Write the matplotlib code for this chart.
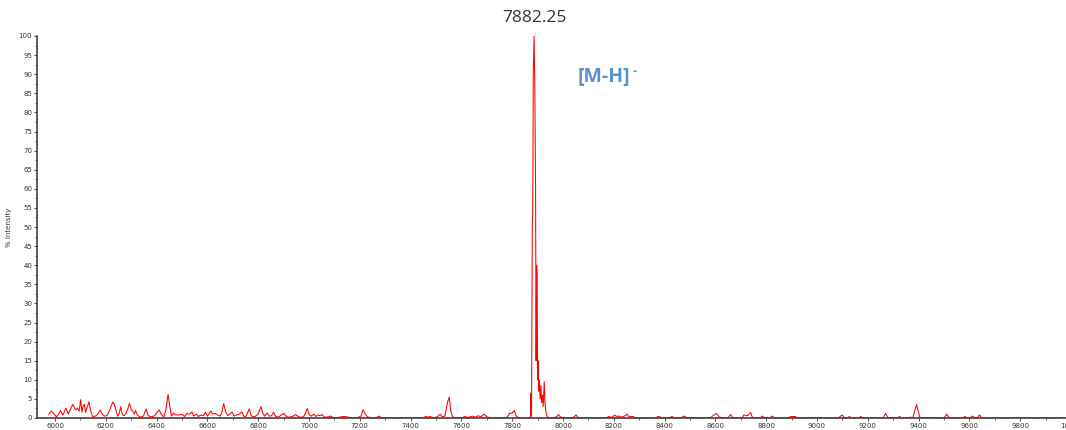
import matplotlib
matplotlib.use("Agg")
import matplotlib.pyplot as plt
from matplotlib.ticker import MultipleLocator

# spectrum trace (m/z, % intensity)
mz = [
    5975, 5985, 5995, 6005, 6012, 6022, 6030, 6036, 6043, 6052, 6060, 6070,
    6078, 6084, 6088, 6095, 6101, 6106, 6110, 6116, 6120, 6127, 6134, 6140,
    6148, 6160, 6168, 6178, 6186, 6194, 6204, 6212, 6220, 6228, 6234, 6240,
    6246, 6252, 6259, 6265, 6272, 6280, 6287, 6293, 6300, 6306, 6312, 6317,
    6324, 6335, 6348, 6359, 6366, 6380, 6392, 6402, 6410, 6418, 6428, 6436,
    6445, 6452, 6458, 6467, 6475, 6490, 6500, 6510, 6520, 6530, 6539, 6546,
    6556, 6565, 6575, 6584, 6592, 6600, 6607, 6614, 6620, 6630, 6640, 6650,
    6657, 6664, 6672, 6680, 6688, 6697, 6705, 6715, 6725, 6736, 6743, 6750,
    6757, 6765, 6772, 6782, 6790, 6800, 6811, 6818, 6826, 6835, 6843, 6852,
    6861, 6868, 6880, 6890, 6901, 6910, 6920, 6935, 6947, 6955, 6965, 6978,
    6986, 6993, 7000, 7008, 7019, 7028, 7036, 7044, 7052, 7060, 7075, 7085,
    7095, 7110, 7125, 7137, 7150, 7165, 7190, 7205, 7213, 7220, 7230, 7245,
    7265, 7275, 7285, 7320, 7400, 7450, 7460, 7468, 7475, 7490, 7505, 7516,
    7525, 7535, 7545, 7552, 7558, 7565, 7580, 7605, 7613, 7625, 7643, 7655,
    7666, 7676, 7690, 7700, 7715, 7760, 7780, 7790, 7800, 7808, 7816, 7825,
    7866, 7872, 7874, 7876, 7879, 7881, 7883, 7886, 7889, 7892, 7894, 7896,
    7898, 7900, 7902, 7904, 7907, 7910, 7913, 7916, 7919, 7922, 7926, 7929,
    7932, 7936, 7940, 7949, 7960, 7975, 7982, 7990, 8000, 8040, 8051, 8060,
    8100, 8170, 8180, 8190, 8200, 8205, 8212, 8222, 8230, 8245, 8252, 8260,
    8275, 8285, 8330, 8365, 8373, 8382, 8390, 8420, 8429, 8437, 8465, 8477,
    8488, 8580, 8590, 8604, 8615, 8625, 8650, 8660, 8668, 8705, 8712, 8725,
    8739, 8746, 8775, 8785, 8793, 8815, 8824, 8832, 8890, 8896, 8915, 8920,
    9085, 9099, 9108, 9120, 9128, 9135, 9165, 9172, 9180, 9260, 9270, 9280,
    9318, 9325, 9332, 9378, 9385, 9392, 9398, 9405, 9500, 9511, 9520, 9575,
    9582, 9590, 9605, 9612, 9620, 9632, 9640, 9648, 9700, 9990,
]
intensity = [
    1.0, 1.8, 1.2, 0.3, 0.8, 2.0, 0.8, 1.5, 2.6, 1.0, 2.2, 3.6,
    2.4, 2.2, 2.6, 1.8, 4.8, 1.5, 3.0, 3.6, 1.5, 3.0, 4.2, 1.8,
    0.4, 0.5, 1.0, 2.1, 1.0, 0.5, 0.6, 1.5, 3.0, 4.2, 3.5, 2.0,
    0.5, 1.0, 3.0, 0.8, 0.6, 1.2, 2.5, 3.8, 2.2, 1.8, 1.0, 2.0,
    0.8, 0.2, 0.5, 2.4, 0.6, 0.3, 0.6, 1.5, 2.1, 1.0, 0.3, 2.0,
    6.2, 3.0, 0.5, 1.3, 0.8, 0.8, 1.0, 0.4, 1.2, 1.0, 1.6, 0.5,
    1.0, 0.4, 0.8, 0.6, 1.5, 0.5, 1.2, 1.8, 1.0, 1.2, 0.8, 0.5,
    1.5, 3.8, 1.5, 0.6, 1.0, 1.6, 0.5, 0.8, 1.0, 1.6, 0.5, 0.3,
    1.2, 2.4, 0.6, 0.3, 0.5, 1.0, 3.0, 1.2, 0.5, 1.3, 0.5, 0.6,
    1.5, 0.5, 0.2, 0.8, 1.2, 0.4, 0.2, 0.4, 0.9, 0.5, 0.2, 0.3,
    1.2, 2.5, 1.0, 0.5, 1.0, 0.4, 0.8, 0.6, 0.9, 0.2, 0.3, 0.5,
    0.1, 0.05, 0.3, 0.4, 0.3, 0.05, 0.05, 0.5, 2.2, 1.2, 0.3, 0.05,
    0.1, 0.5, 0.05, 0.02, 0.02, 0.05, 0.4, 0.2, 0.4, 0.05, 0.3, 1.0,
    0.3, 0.5, 4.0, 5.5, 2.0, 0.3, 0.05, 0.1, 0.4, 0.1, 0.5, 0.2,
    0.6, 0.3, 1.0, 0.3, 0.05, 0.05, 0.2, 1.2, 1.3, 2.0, 0.5, 0.05,
    0.05, 0.1, 6.5, 0.5, 50, 55, 90, 100, 87, 60, 15, 40,
    38, 10, 15, 7, 10, 5, 8.5, 4, 6, 3, 9.5, 4,
    2, 0.6, 0.2, 0.05, 0.05, 0.3, 0.9, 0.3, 0.05, 0.1, 0.8, 0.1,
    0.02, 0.05, 0.4, 0.1, 0.6, 0.7, 0.4, 0.5, 0.2, 0.6, 1.0, 0.3,
    0.4, 0.05, 0.02, 0.05, 0.4, 0.3, 0.05, 0.05, 0.4, 0.05, 0.05, 0.5,
    0.05, 0.05, 0.6, 1.2, 0.3, 0.05, 0.1, 0.9, 0.1, 0.05, 0.8, 0.6,
    1.4, 0.1, 0.05, 0.5, 0.05, 0.05, 0.5, 0.05, 0.05, 0.4, 0.4, 0.05,
    0.05, 0.8, 0.05, 0.05, 0.4, 0.05, 0.05, 0.4, 0.05, 0.05, 1.2, 0.05,
    0.05, 0.4, 0.05, 0.2, 2.0, 3.5, 1.8, 0.1, 0.05, 1.0, 0.05, 0.05,
    0.4, 0.05, 0.05, 0.5, 0.05, 0.1, 0.8, 0.05, 0.03, 0.03,
]

peak_label = "7882.25"
ion_label = "[M-H]"

fig = plt.figure(figsize=(10.66, 4.3), dpi=100)
ax = fig.add_axes([37 / 1066, 12 / 430, 1035 / 1066, 382 / 430])

ax.plot(mz, intensity, color="#ff0000", linewidth=0.75)

ax.set_xlim(5929, 10004)
ax.set_ylim(0, 100)

ax.xaxis.set_major_locator(MultipleLocator(200))
ax.xaxis.set_minor_locator(MultipleLocator(100))
ax.yaxis.set_major_locator(MultipleLocator(5))
ax.yaxis.set_minor_locator(MultipleLocator(2.5))
ax.tick_params(which="major", direction="out", length=2.5, width=0.6,
               labelsize=5, pad=1, colors="#333333")
ax.tick_params(which="minor", direction="out", length=1.5, width=0.5,
               colors="#333333")

for side in ["top", "right"]:
    ax.spines[side].set_visible(False)
for side in ["left", "bottom"]:
    ax.spines[side].set_color("#404040")
    ax.spines[side].set_linewidth(1.2)

ax.set_ylabel("% Intensity", fontsize=5, color="#333333")
ax.yaxis.set_label_coords(-0.024, 0.5)

# label the tallest point of the trace
top = intensity.index(max(intensity))
ax.annotate(peak_label, xy=(mz[top], intensity[top]), xytext=(0, 13),
            textcoords="offset points", ha="center", va="center",
            fontsize=12.5, color="#333333", family="Open Sans",
            annotation_clip=False)

fig.text(578 / 1066, 1 - 77 / 430, ion_label, ha="left", va="center",
         fontsize=14, fontweight="bold", color="#5b8fd6", family="Open Sans")
fig.text(633 / 1066, 1 - 71 / 430, "-", ha="left", va="center",
         fontsize=9, fontweight="bold", color="#5b8fd6", family="Open Sans")

fig.savefig("out.png", dpi=100)
